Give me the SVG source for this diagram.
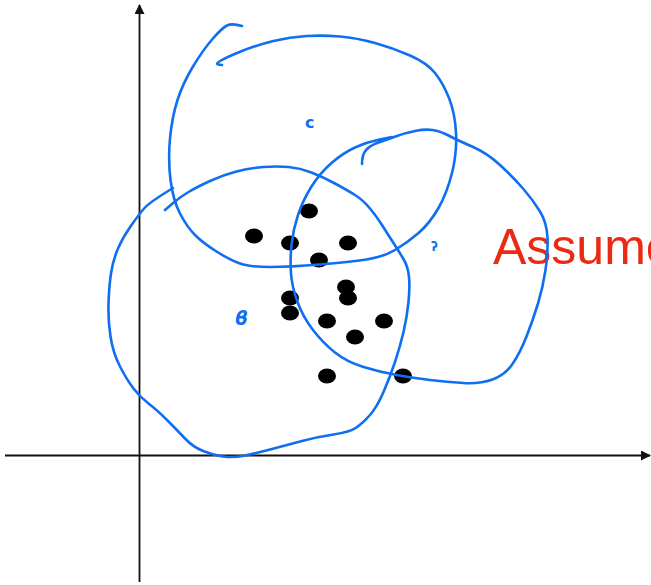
<svg xmlns="http://www.w3.org/2000/svg" width="651" height="585" viewBox="0 0 651 585">
<style>
.ink{fill:none;stroke:#0F6FF0;stroke-width:2.6;stroke-linecap:round;stroke-linejoin:round}
.axis{stroke:#111;stroke-width:1.8;fill:none}
.dot{fill:#000}
.lbl{fill:#0F6FF0;font-family:"DejaVu Sans",sans-serif;font-weight:bold}
</style>
<defs>
<marker id="arr" viewBox="0 0 10 10" refX="9" refY="5" markerWidth="10" markerHeight="10" markerUnits="userSpaceOnUse" orient="auto">
<path d="M0,0 L10,5 L0,10 Z" fill="#111"/>
</marker>
</defs>
<rect width="651" height="585" fill="#fff"/>
<g id="axes">
<line class="axis" x1="139.5" y1="582" x2="139.5" y2="5" marker-end="url(#arr)"/>
<line class="axis" x1="5" y1="455.5" x2="650" y2="455.5" marker-end="url(#arr)"/>
</g>
<g id="note">
<text x="493" y="264" font-family="Liberation Sans, Arial, sans-serif" font-size="50" fill="#EA2A12">Assume</text>
</g>
<g id="points">
<ellipse class="dot" cx="309" cy="211" rx="9" ry="7.5"/>
<ellipse class="dot" cx="254" cy="236" rx="9" ry="7.5"/>
<ellipse class="dot" cx="290" cy="243" rx="9" ry="7.5"/>
<ellipse class="dot" cx="348" cy="243" rx="9" ry="7.5"/>
<ellipse class="dot" cx="319" cy="260" rx="9" ry="7.5"/>
<ellipse class="dot" cx="346" cy="287" rx="9" ry="7.5"/>
<ellipse class="dot" cx="348" cy="298" rx="9" ry="7.5"/>
<ellipse class="dot" cx="290" cy="298" rx="9" ry="7.5"/>
<ellipse class="dot" cx="290" cy="313" rx="9" ry="7.5"/>
<ellipse class="dot" cx="327" cy="321" rx="9" ry="7.5"/>
<ellipse class="dot" cx="384" cy="321" rx="9" ry="7.5"/>
<ellipse class="dot" cx="355" cy="337" rx="9" ry="7.5"/>
<ellipse class="dot" cx="327" cy="376" rx="9" ry="7.5"/>
<ellipse class="dot" cx="403" cy="376" rx="9" ry="7.5"/>
</g>
<g id="cluster-c">
<path class="ink" d="M242,26 Q232,23 227,25.5 Q222,28 212.5,39 Q203,50 193,66.5 Q183,83 177.5,100 Q172,117 170,138.5 Q168,160 170.5,180 Q173,200 180,213.5 Q187,227 195,235 Q203,243 216.5,251.5 Q230,260 240,263.5 Q250,267 270,267 Q290,267 320,264.5 Q350,262 366.5,259.5 Q383,257 395,250 Q407,243 418.5,233 Q430,223 438.5,208 Q447,193 452,173 Q457,153 456,133 Q455,113 449,98 Q443,83 435,73 Q427,63 410,55.5 Q393,48 375,43 Q357,38 340,36.5 Q323,35 306.5,36 Q290,37 273.5,41 Q257,45 242,51 Q227,57 221,60.5 Q215,64 218.5,64.5 L222,65"/>
<text class="lbl" x="305" y="128" font-size="16">c</text>
</g>
<g id="cluster-a">
<path class="ink" d="M362,164 Q362,154 366.5,149.5 Q371,145 378.5,142.5 Q386,140 395.5,136.5 Q405,133 415,131 Q425,129 432.5,130 Q440,131 448.5,135.5 Q457,140 472,146.5 Q487,153 500,165 Q513,177 523,188.5 Q533,200 540,211.5 Q547,223 547.5,238 Q548,253 545.5,270 Q543,287 538,303.5 Q533,320 526.5,336.5 Q520,353 512.5,364 Q505,375 492.5,379.5 Q480,384 463.5,383 Q447,382 430,380 Q413,378 396.5,375 Q380,372 363.5,367 Q347,362 335,352.5 Q323,343 313,330 Q303,317 297.5,302 Q292,287 291,273.5 Q290,260 291.5,245 Q293,230 298,215 Q303,200 311.5,186.5 Q320,173 331.5,163 Q343,153 355,147.5 Q367,142 379.5,139.5 L392,137"/>
<text class="lbl" x="431" y="251" font-size="12">ʔ</text>
</g>
<g id="cluster-b">
<path class="ink" d="M173,188 Q150,202 145,207.5 Q140,213 131.5,225 Q123,237 118,248.5 Q113,260 111,273.5 Q109,287 108.5,303.5 Q108,320 110.5,336.5 Q113,353 120,366.5 Q127,380 133.5,388.5 Q140,397 148.5,403.5 Q157,410 167,420 Q177,430 185,438.5 Q193,447 203,451 Q213,455 223,456.5 Q233,458 245,455.5 Q257,453 272,449 Q287,445 302,441 Q317,437 333.5,434.5 Q350,432 356.5,427.5 Q363,423 370,415 Q377,407 383.5,392 Q390,377 395,362 Q400,347 403.5,332 Q407,317 408.5,302 Q410,287 409,277 Q408,267 404,260 Q400,253 393.5,243 Q387,233 382,225 Q377,217 370,208.5 Q363,200 355,195 Q347,190 335,183.5 Q323,177 311.5,172.5 Q300,168 288.5,167 Q277,166 263.5,167 Q250,168 236.5,171.5 Q223,175 210,181 Q197,187 188.5,192 Q180,197 172.5,203.5 L165,210"/>
<text class="lbl" x="235" y="325" font-size="20" font-style="italic" font-weight="normal">ϐ</text>
</g>
</svg>
